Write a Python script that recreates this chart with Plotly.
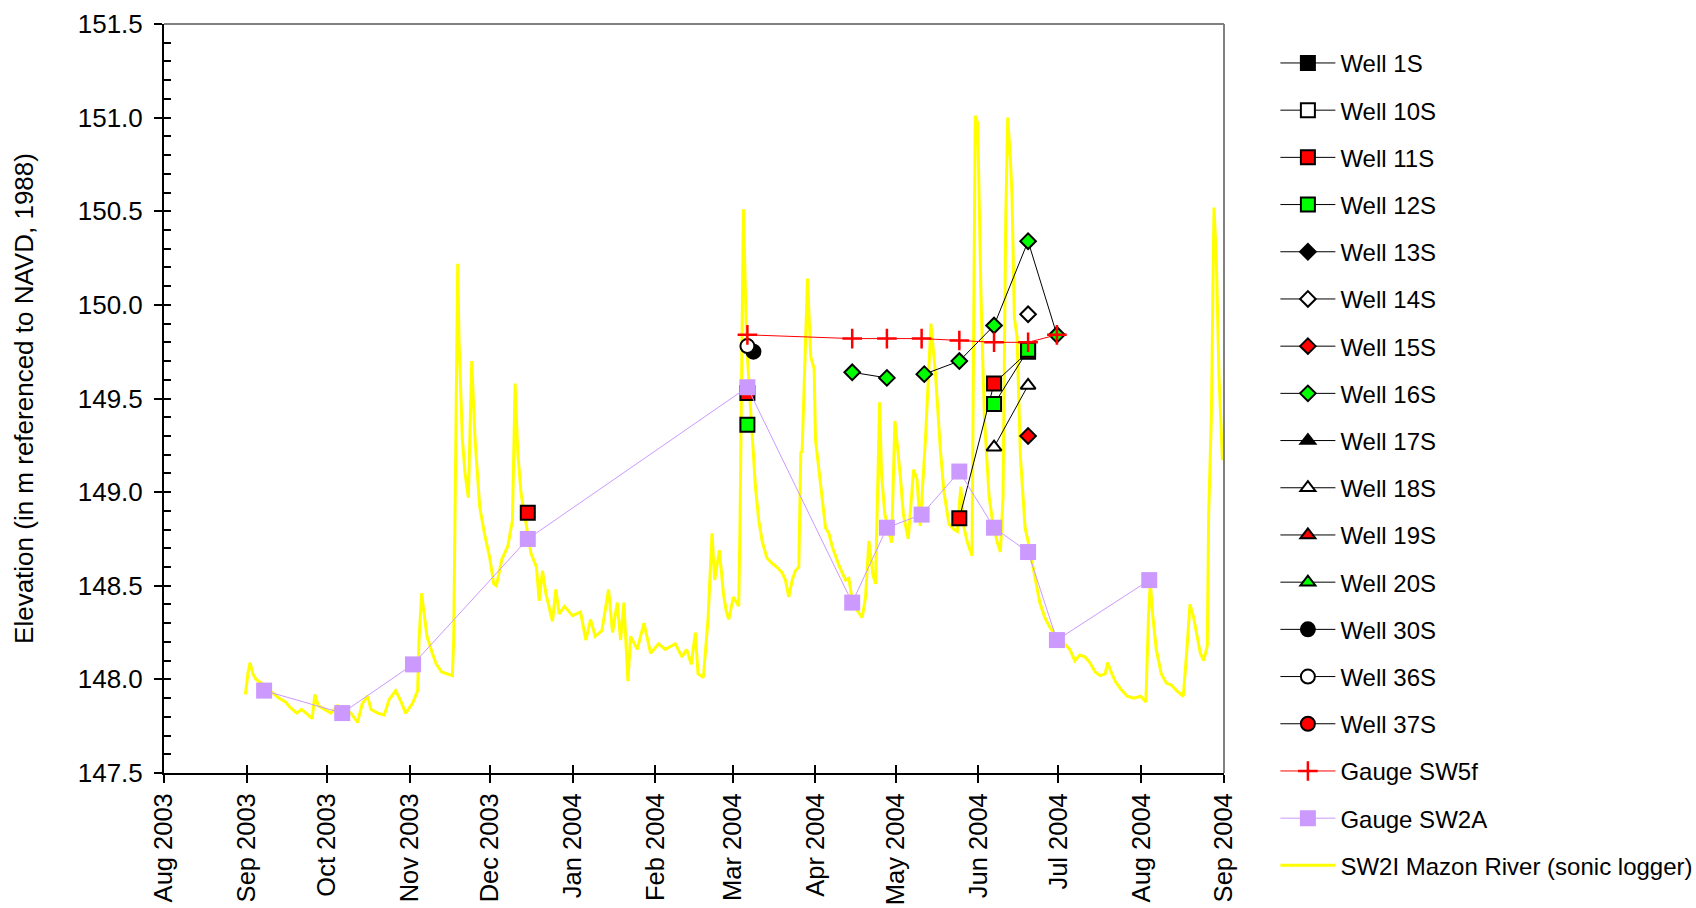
import plotly.graph_objects as go

# ---------------------------------------------------------------------------
# SW2I Mazon River (sonic logger) - continuous stage record
# ---------------------------------------------------------------------------
sw2i_dates = [
    "2003-08-31 12:00", "2003-09-01 12:00", "2003-09-02 06:00", "2003-09-03 06:00",
    "2003-09-04 12:00", "2003-09-07 12:00", "2003-09-10 12:00", "2003-09-13",
    "2003-09-15 12:00", "2003-09-17 06:00", "2003-09-19 18:00", "2003-09-21 12:00",
    "2003-09-24", "2003-09-25 12:00", "2003-09-26 12:00", "2003-09-27 18:00",
    "2003-09-30", "2003-10-02 12:00", "2003-10-05", "2003-10-07 12:00",
    "2003-10-10", "2003-10-12 12:00", "2003-10-14 06:00", "2003-10-16 06:00",
    "2003-10-17 12:00", "2003-10-20", "2003-10-22 12:00", "2003-10-24 06:00",
    "2003-10-26 18:00", "2003-10-28 12:00", "2003-10-30 12:00", "2003-11-02",
    "2003-11-04", "2003-11-04 12:00", "2003-11-05 12:00", "2003-11-06 06:00",
    "2003-11-07 12:00", "2003-11-09 12:00", "2003-11-11", "2003-11-13",
    "2003-11-15 12:00", "2003-11-17", "2003-11-17 12:00", "2003-11-18 06:00",
    "2003-11-19", "2003-11-19 12:00", "2003-11-20 18:00", "2003-11-21 18:00",
    "2003-11-23", "2003-11-24 06:00", "2003-11-25 12:00", "2003-11-27 06:00",
    "2003-11-29", "2003-12-01", "2003-12-02 12:00", "2003-12-03 12:00",
    "2003-12-05 12:00", "2003-12-07 18:00", "2003-12-09 12:00", "2003-12-10 12:00",
    "2003-12-11 12:00", "2003-12-12 18:00", "2003-12-14 18:00", "2003-12-16 12:00",
    "2003-12-18 12:00", "2003-12-19 12:00", "2003-12-20 18:00", "2003-12-22",
    "2003-12-24 12:00", "2003-12-25 18:00", "2003-12-27", "2003-12-29",
    "2004-01-01", "2004-01-04", "2004-01-06", "2004-01-07 18:00",
    "2004-01-09 12:00", "2004-01-12", "2004-01-14 12:00", "2004-01-16",
    "2004-01-17 18:00", "2004-01-19", "2004-01-20 06:00", "2004-01-21 18:00",
    "2004-01-22 18:00", "2004-01-25 06:00", "2004-01-27 18:00", "2004-01-30 06:00",
    "2004-02-02 06:00", "2004-02-04 18:00", "2004-02-08 12:00", "2004-02-11",
    "2004-02-12 18:00", "2004-02-14 12:00", "2004-02-16", "2004-02-17",
    "2004-02-19", "2004-02-20 18:00", "2004-02-22 06:00", "2004-02-23 06:00",
    "2004-02-25", "2004-02-26 12:00", "2004-02-27 12:00", "2004-02-28 12:00",
    "2004-03-01 06:00", "2004-03-03 06:00", "2004-03-03 18:00", "2004-03-04 12:00",
    "2004-03-05", "2004-03-06 06:00", "2004-03-08 06:00", "2004-03-09 12:00",
    "2004-03-10 18:00", "2004-03-12", "2004-03-13 18:00", "2004-03-15 18:00",
    "2004-03-17 12:00", "2004-03-19 12:00", "2004-03-20 18:00", "2004-03-22",
    "2004-03-23 06:00", "2004-03-24 12:00", "2004-03-25 18:00", "2004-03-26 12:00",
    "2004-03-27", "2004-03-28", "2004-03-29", "2004-03-30 06:00",
    "2004-03-31 12:00", "2004-04-01", "2004-04-03", "2004-04-04 18:00",
    "2004-04-06", "2004-04-07 06:00", "2004-04-09 18:00", "2004-04-12 06:00",
    "2004-04-13 12:00", "2004-04-14 18:00", "2004-04-16 12:00", "2004-04-18 12:00",
    "2004-04-19 18:00", "2004-04-21", "2004-04-22 12:00", "2004-04-23 12:00",
    "2004-04-25", "2004-04-25 18:00", "2004-04-27", "2004-04-29",
    "2004-04-29 12:00", "2004-04-30 18:00", "2004-05-02 18:00", "2004-05-03 22:00",
    "2004-05-05 18:00", "2004-05-07 18:00", "2004-05-09", "2004-05-10 06:00",
    "2004-05-12 06:00", "2004-05-14 06:00", "2004-05-16", "2004-05-17 18:00",
    "2004-05-19 03:00", "2004-05-21", "2004-05-22 22:00", "2004-05-24 03:00",
    "2004-05-25 10:00", "2004-05-26 15:00", "2004-05-27 22:00", "2004-05-29 15:00",
    "2004-05-30 06:00", "2004-05-30 20:00", "2004-05-31 18:00", "2004-06-02",
    "2004-06-03 06:00", "2004-06-05", "2004-06-06 06:00", "2004-06-08 03:00",
    "2004-06-09 06:00", "2004-06-10 06:00", "2004-06-11 06:00", "2004-06-12",
    "2004-06-13", "2004-06-13 15:00", "2004-06-14 12:00", "2004-06-15 12:00",
    "2004-06-16 18:00", "2004-06-17 18:00", "2004-06-18 12:00", "2004-06-19 18:00",
    "2004-06-21", "2004-06-22 06:00", "2004-06-24", "2004-06-25 22:00",
    "2004-06-27 18:00", "2004-06-29 15:00", "2004-07-01 10:00", "2004-07-03 06:00",
    "2004-07-05 06:00", "2004-07-07 03:00", "2004-07-09", "2004-07-10 22:00",
    "2004-07-12 18:00", "2004-07-14 18:00", "2004-07-16 15:00", "2004-07-18 12:00",
    "2004-07-19 10:00", "2004-07-20 10:00", "2004-07-22 06:00", "2004-07-24 06:00",
    "2004-07-26 18:00", "2004-07-29 06:00", "2004-07-31 18:00", "2004-08-02 18:00",
    "2004-08-03 18:00", "2004-08-04 10:00", "2004-08-05 06:00", "2004-08-06 15:00",
    "2004-08-08 12:00", "2004-08-10 10:00", "2004-08-12 06:00", "2004-08-14 06:00",
    "2004-08-16 18:00", "2004-08-18", "2004-08-19 06:00", "2004-08-20 15:00",
    "2004-08-21 22:00", "2004-08-23 03:00", "2004-08-24 10:00", "2004-08-25 18:00",
    "2004-08-26 06:00", "2004-08-27 06:00", "2004-08-28 06:00", "2004-08-29 03:00",
    "2004-08-30 03:00", "2004-08-31 10:00",
]
sw2i_elev = [
    147.92, 148.04, 148.09, 148.03,
    148.00, 147.97, 147.93, 147.90,
    147.88, 147.85, 147.82, 147.84,
    147.81, 147.79, 147.92, 147.86,
    147.84, 147.82, 147.86, 147.84,
    147.82, 147.77, 147.87, 147.91,
    147.84, 147.82, 147.81, 147.89,
    147.94, 147.89, 147.82, 147.87,
    147.94, 148.21, 148.46, 148.37,
    148.23, 148.14, 148.08, 148.04,
    148.03, 148.02, 148.21, 149.28,
    150.22, 149.81, 149.28, 149.10,
    148.97, 149.70, 149.28, 148.92,
    148.78, 148.65, 148.51, 148.50,
    148.64, 148.71, 148.85, 149.58,
    149.21, 148.99, 148.81, 148.67,
    148.60, 148.42, 148.58, 148.46,
    148.31, 148.48, 148.35, 148.39,
    148.34, 148.36, 148.21, 148.32,
    148.23, 148.26, 148.48, 148.25,
    148.41, 148.21, 148.41, 147.99,
    148.23, 148.16, 148.30, 148.14,
    148.19, 148.16, 148.19, 148.12,
    148.16, 148.08, 148.25, 148.03,
    148.01, 148.32, 148.78, 148.53,
    148.69, 148.46, 148.37, 148.32,
    148.44, 148.39, 148.85, 149.80,
    150.51, 149.78, 149.30, 149.03,
    148.85, 148.74, 148.65, 148.62,
    148.60, 148.57, 148.53, 148.44,
    148.53, 148.58, 148.60, 149.21,
    149.22, 149.74, 150.14, 149.72,
    149.66, 149.28, 149.01, 148.81,
    148.78, 148.71, 148.61, 148.53,
    148.54, 148.42, 148.37, 148.33,
    148.44, 148.74, 148.56, 148.51,
    149.48, 149.09, 148.88, 148.75,
    148.73, 149.38, 149.09, 148.88,
    148.75, 149.12, 149.07, 148.82,
    149.30, 149.90, 149.62, 149.23,
    149.00, 148.83, 148.80, 148.79,
    149.03, 148.81, 148.73, 148.66,
    150.04, 151.01, 150.97, 150.04,
    149.40, 148.98, 148.85, 148.73,
    148.68, 148.98, 150.46, 151.00,
    150.78, 150.57, 149.93, 149.83,
    149.19, 148.98, 148.81, 148.73,
    148.64, 148.54, 148.41, 148.33,
    148.28, 148.24, 148.22, 148.19,
    148.16, 148.10, 148.13, 148.12,
    148.09, 148.04, 148.02, 148.03,
    148.09, 148.05, 147.99, 147.95,
    147.91, 147.90, 147.91, 147.88,
    148.35, 148.52, 148.35, 148.16,
    148.03, 147.98, 147.97, 147.94,
    147.91, 148.14, 148.40, 148.33,
    148.22, 148.14, 148.10, 148.18,
    148.88, 149.40, 150.52, 150.25,
    149.62, 149.17,
]

# ---------------------------------------------------------------------------
# Gauges
# ---------------------------------------------------------------------------
sw2a_dates = [
    "2003-09-07 12:00", "2003-10-06 18:00", "2003-11-02 06:00", "2003-12-15 06:00",
    "2004-03-06 12:00", "2004-04-14 18:00", "2004-04-27 18:00", "2004-05-10 18:00",
    "2004-05-24 21:00", "2004-06-06 21:00", "2004-06-19 15:00", "2004-06-30 10:00",
    "2004-08-04",
]
sw2a_elev = [147.94, 147.82, 148.08, 148.75, 149.56, 148.41, 148.81, 148.88,
             149.11, 148.81, 148.68, 148.21, 148.53]

sw5f_dates = ["2004-03-06 12:00", "2004-04-14 18:00", "2004-04-27 18:00", "2004-05-10 18:00",
              "2004-05-24 21:00", "2004-06-06 21:00", "2004-06-19 15:00", "2004-06-30 10:00"]
sw5f_elev = [149.84, 149.82, 149.82, 149.82, 149.81, 149.80, 149.80, 149.84]

# ---------------------------------------------------------------------------
# Shallow wells (None marks a break in the line between sampling rounds)
# ---------------------------------------------------------------------------
well_11s_dates = ["2003-12-15 06:00", "2004-01-20", "2004-03-06 12:00", "2004-04-20",
                  "2004-05-24 21:00", "2004-06-06 21:00", "2004-06-19 15:00"]
well_11s_elev = [148.89, None, 149.53, None, 148.86, 149.58, 149.75]

well_12s_dates = ["2004-03-06 12:00", "2004-04-20", "2004-06-06 21:00", "2004-06-19 15:00"]
well_12s_elev = [149.36, None, 149.47, 149.76]

well_14s_dates = ["2004-06-19 15:00"]
well_14s_elev = [149.95]

well_15s_dates = ["2004-06-19 15:00"]
well_15s_elev = [149.30]

well_16s_dates = ["2004-04-14 18:00", "2004-04-27 18:00", "2004-05-04", "2004-05-11 18:00",
                  "2004-05-24 21:00", "2004-06-06 21:00", "2004-06-19 15:00", "2004-06-30 10:00"]
well_16s_elev = [149.64, 149.61, None, 149.63, 149.70, 149.89, 150.34, 149.84]

well_18s_dates = ["2004-06-06 21:00", "2004-06-19 15:00"]
well_18s_elev = [149.24, 149.57]

well_30s_dates = ["2004-03-08 18:00"]
well_30s_elev = [149.75]

well_36s_dates = ["2004-03-06 12:00"]
well_36s_elev = [149.78]

# Axis ticks
month_ticks = ["2003-08-01", "2003-09-01", "2003-10-01", "2003-11-01", "2003-12-01",
               "2004-01-01", "2004-02-01", "2004-03-01", "2004-04-01", "2004-05-01",
               "2004-06-01", "2004-07-01", "2004-08-01", "2004-09-01"]
month_labels = ["Aug 2003", "Sep 2003", "Oct 2003", "Nov 2003", "Dec 2003",
                "Jan 2004", "Feb 2004", "Mar 2004", "Apr 2004", "May 2004",
                "Jun 2004", "Jul 2004", "Aug 2004", "Sep 2004"]

FONT = "Liberation Sans, Arial, sans-serif"
GREEN = "#00FF00"
RED = "#FF0000"
PURPLE = "#CC99FF"
YELLOW = "#FFFF00"

# (name, dates, values, symbol, fill colour, symbol size)
wells = [
    ("Well 1S", [None], [None], "square", "black", 14),
    ("Well 10S", [None], [None], "square", "white", 14),
    ("Well 11S", well_11s_dates, well_11s_elev, "square", RED, 14),
    ("Well 12S", well_12s_dates, well_12s_elev, "square", GREEN, 14),
    ("Well 13S", [None], [None], "diamond", "black", 12),
    ("Well 14S", well_14s_dates, well_14s_elev, "diamond", "white", 12),
    ("Well 15S", well_15s_dates, well_15s_elev, "diamond", RED, 12),
    ("Well 16S", well_16s_dates, well_16s_elev, "diamond", GREEN, 12),
    ("Well 17S", [None], [None], "triangle-up", "black", 13),
    ("Well 18S", well_18s_dates, well_18s_elev, "triangle-up", "white", 13),
    ("Well 19S", [None], [None], "triangle-up", RED, 13),
    ("Well 20S", [None], [None], "triangle-up", GREEN, 13),
    ("Well 30S", well_30s_dates, well_30s_elev, "circle", "black", 14),
    ("Well 36S", well_36s_dates, well_36s_elev, "circle", "white", 14),
    ("Well 37S", [None], [None], "circle", RED, 14),
]

fig = go.Figure()

# river stage drawn underneath everything else
fig.add_trace(go.Scatter(
    x=sw2i_dates, y=sw2i_elev, mode="lines", name="SW2I Mazon River (sonic logger)",
    line=dict(color=YELLOW, width=3), legendgroup="sw2i", legendrank=17,
))

for rank, (name, xs, ys, sym, fill, size) in enumerate(wells, start=1):
    fig.add_trace(go.Scatter(
        x=xs, y=ys, mode="lines+markers", name=name,
        line=dict(color="black", width=1),
        marker=dict(symbol=sym, color=fill, size=size, line=dict(color="black", width=2)),
        legendgroup=name, legendrank=rank,
    ))

fig.add_trace(go.Scatter(
    x=sw5f_dates, y=sw5f_elev, mode="lines+markers", name="Gauge SW5f",
    line=dict(color=RED, width=1),
    marker=dict(symbol="cross-thin", size=14, line=dict(color=RED, width=2.5)),
    legendgroup="sw5f", legendrank=16,
))

fig.add_trace(go.Scatter(
    x=sw2a_dates, y=sw2a_elev, mode="lines+markers", name="Gauge SW2A",
    line=dict(color=PURPLE, width=1),
    marker=dict(symbol="square", color=PURPLE, size=16),
    legendgroup="sw2a", legendrank=16.5,
))

# empty trace carrying the inner tick marks of the overlay axes
fig.add_trace(go.Scatter(x=[None], y=[None], xaxis="x2", yaxis="y2",
                         showlegend=False, hoverinfo="skip"))

x_range = ["2003-08-01", "2004-09-01"]
y_range = [147.5, 151.5]

fig.update_layout(
    width=1696, height=908,
    margin=dict(l=164, r=472, t=24, b=135),
    paper_bgcolor="white", plot_bgcolor="white",
    font=dict(family=FONT, color="black", size=26),
    showlegend=True,
    legend=dict(
        xref="container", yref="container", x=0.752, y=0.955,
        xanchor="left", yanchor="top", maxheight=900,
        font=dict(family=FONT, size=24, color="black"),
        tracegroupgap=13, itemwidth=55, bgcolor="rgba(0,0,0,0)",
    ),
    xaxis=dict(
        type="date", range=x_range, tickmode="array",
        tickvals=month_ticks, ticktext=month_labels, tickangle=-90,
        ticks="outside", ticklen=8, tickwidth=1.5, tickcolor="black",
        showline=True, linecolor="black", linewidth=2, automargin=False,
        showgrid=False, zeroline=False, ticklabelstandoff=0,
        tickfont=dict(family=FONT, size=25.5, color="black"),
    ),
    yaxis=dict(
        range=y_range, dtick=0.5, tick0=147.5, tickformat=".1f",
        ticks="outside", ticklen=8, tickwidth=1.5, tickcolor="black",
        showline=True, linecolor="black", linewidth=2, automargin=False,
        showgrid=False, zeroline=False, ticklabelstandoff=6,
        tickfont=dict(family=FONT, size=26, color="black"),
        title=dict(text="Elevation (in m referenced to NAVD, 1988)",
                   font=dict(family=FONT, size=26, color="black"), standoff=37),
    ),
    xaxis2=dict(
        type="date", range=x_range, overlaying="x", anchor="y2", side="bottom",
        tickmode="array", tickvals=month_ticks, showticklabels=False,
        ticks="inside", ticklen=8, tickwidth=1.5, tickcolor="black",
        showline=False, showgrid=False, zeroline=False, automargin=False,
    ),
    yaxis2=dict(
        range=y_range, overlaying="y", anchor="x2", side="left",
        dtick=0.1, tick0=147.5, showticklabels=False,
        ticks="inside", ticklen=7, tickwidth=1.5, tickcolor="black",
        showline=False, showgrid=False, zeroline=False, automargin=False,
    ),
    shapes=[
        dict(type="line", xref="paper", yref="paper", x0=0, x1=1, y0=1, y1=1,
             line=dict(color="#808080", width=2)),
        dict(type="line", xref="paper", yref="paper", x0=1, x1=1, y0=0, y1=1,
             line=dict(color="#808080", width=2)),
    ],
)

fig.write_html("out.html")
